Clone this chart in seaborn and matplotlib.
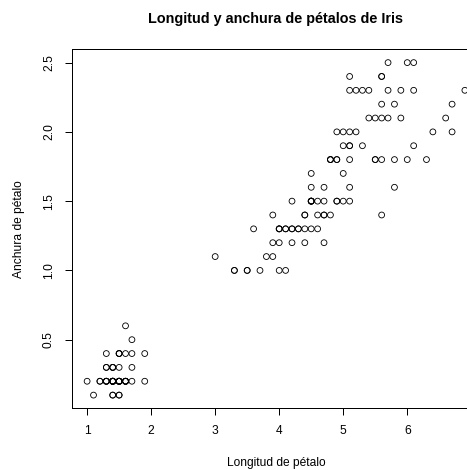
import matplotlib
matplotlib.use("Agg")
import matplotlib.pyplot as plt
import seaborn as sns
import pandas as pd

# Petal length / width (Iris data), per species
setosa_length = [1.4,1.4,1.3,1.5,1.4,1.7,1.4,1.5,1.4,1.5,1.5,1.6,1.4,1.1,1.2,1.5,1.3,1.4,1.7,1.5,
                 1.7,1.5,1.0,1.7,1.9,1.6,1.6,1.5,1.4,1.6,1.6,1.5,1.5,1.4,1.5,1.2,1.3,1.4,1.3,1.5,
                 1.3,1.3,1.3,1.6,1.9,1.4,1.6,1.4,1.5,1.4]
setosa_width = [0.2,0.2,0.2,0.2,0.2,0.4,0.3,0.2,0.2,0.1,0.2,0.2,0.1,0.1,0.2,0.4,0.4,0.3,0.3,0.3,
                0.2,0.4,0.2,0.5,0.2,0.2,0.4,0.2,0.2,0.2,0.2,0.4,0.1,0.2,0.2,0.2,0.2,0.1,0.2,0.2,
                0.3,0.3,0.2,0.6,0.4,0.3,0.2,0.2,0.2,0.2]
versicolor_length = [4.7,4.5,4.9,4.0,4.6,4.5,4.7,3.3,4.6,3.9,3.5,4.2,4.0,4.7,3.6,4.4,4.5,4.1,4.5,3.9,
                     4.8,4.0,4.9,4.7,4.3,4.4,4.8,5.0,4.5,3.5,3.8,3.7,3.9,5.1,4.5,4.5,4.7,4.4,4.1,4.0,
                     4.4,4.6,4.0,3.3,4.2,4.2,4.2,4.3,3.0,4.1]
versicolor_width = [1.4,1.5,1.5,1.3,1.5,1.3,1.6,1.0,1.3,1.4,1.0,1.5,1.0,1.4,1.3,1.4,1.5,1.0,1.5,1.1,
                    1.8,1.3,1.5,1.2,1.3,1.4,1.4,1.7,1.5,1.0,1.1,1.0,1.2,1.6,1.5,1.6,1.5,1.3,1.3,1.3,
                    1.2,1.4,1.2,1.0,1.3,1.2,1.3,1.3,1.1,1.3]
virginica_length = [6.0,5.1,5.9,5.6,5.8,6.6,4.5,6.3,5.8,6.1,5.1,5.3,5.5,5.0,5.1,5.3,5.5,6.7,6.9,5.0,
                    5.7,4.9,6.7,4.9,5.7,6.0,4.8,4.9,5.6,5.8,6.1,6.4,5.6,5.1,5.6,6.1,5.6,5.5,4.8,5.4,
                    5.6,5.1,5.1,5.9,5.7,5.2,5.0,5.2,5.4,5.1]
virginica_width = [2.5,1.9,2.1,1.8,2.2,2.1,1.7,1.8,1.8,2.5,2.0,1.9,2.1,2.0,2.4,2.3,1.8,2.2,2.3,1.5,
                   2.3,2.0,2.0,1.8,2.1,1.8,1.8,1.8,2.1,1.6,1.9,2.0,2.2,1.5,1.4,2.3,2.4,1.8,1.8,2.1,
                   2.4,2.3,1.9,2.3,2.5,2.3,1.9,2.0,2.3,1.8]

x_ticks = [1, 2, 3, 4, 5, 6, 7]
y_ticks = [0.5, 1.0, 1.5, 2.0, 2.5]
y_tick_labels = ["0.5", "1.0", "1.5", "2.0", "2.5"]

df = pd.DataFrame({
    "length": setosa_length + versicolor_length + virginica_length,
    "width": setosa_width + versicolor_width + virginica_width,
})

sns.set_style("white")
plt.rcParams["font.family"] = ["Liberation Sans", "DejaVu Sans"]

W, H = 467, 470
fig = plt.figure(figsize=(W / 72, H / 72), dpi=72)
left, right, top, bottom = 72, 480, 49.3, 408.4
ax = fig.add_axes([left / W, 1 - bottom / H, (right - left) / W, (bottom - top) / H])

sns.scatterplot(data=df, x="length", y="width", ax=ax, marker="o",
                facecolors="none", edgecolor="black", linewidth=0.85, s=34)

xmin, xmax = 1.0, 6.9
ymin, ymax = 0.1, 2.5
dx = (xmax - xmin) * 0.04
dy = (ymax - ymin) * 0.04
ax.set_xlim(xmin - dx, xmax + dx)
ax.set_ylim(ymin - dy, ymax + dy)

ax.set_xticks(x_ticks)
ax.set_xticklabels([str(t) for t in x_ticks])
ax.set_yticks(y_ticks)
ax.set_yticklabels(y_tick_labels, rotation=90, va="center")

for sp in ax.spines.values():
    sp.set_visible(True)
    sp.set_color("black")
    sp.set_linewidth(1.0)

ax.tick_params(axis="both", which="major", direction="out", length=7, width=1,
               color="black", labelsize=12, labelcolor="black", pad=10,
               bottom=True, left=True, top=False, right=False)

ax.set_xlabel("Longitud de pétalo", fontsize=12, color="black")
ax.set_ylabel("Anchura de pétalo", fontsize=12, color="black")
ax.xaxis.label.set_va("center")
ax.yaxis.label.set_va("center")
ax.xaxis.set_label_coords(0.5, (bottom - 463) / (bottom - top))
ax.yaxis.set_label_coords((19 - left) / (right - left), 0.5)

ax.set_title("Longitud y anchura de pétalos de Iris", fontsize=14.4,
             fontweight="bold", pad=26, color="black")

fig.savefig("out.png", dpi=72)
